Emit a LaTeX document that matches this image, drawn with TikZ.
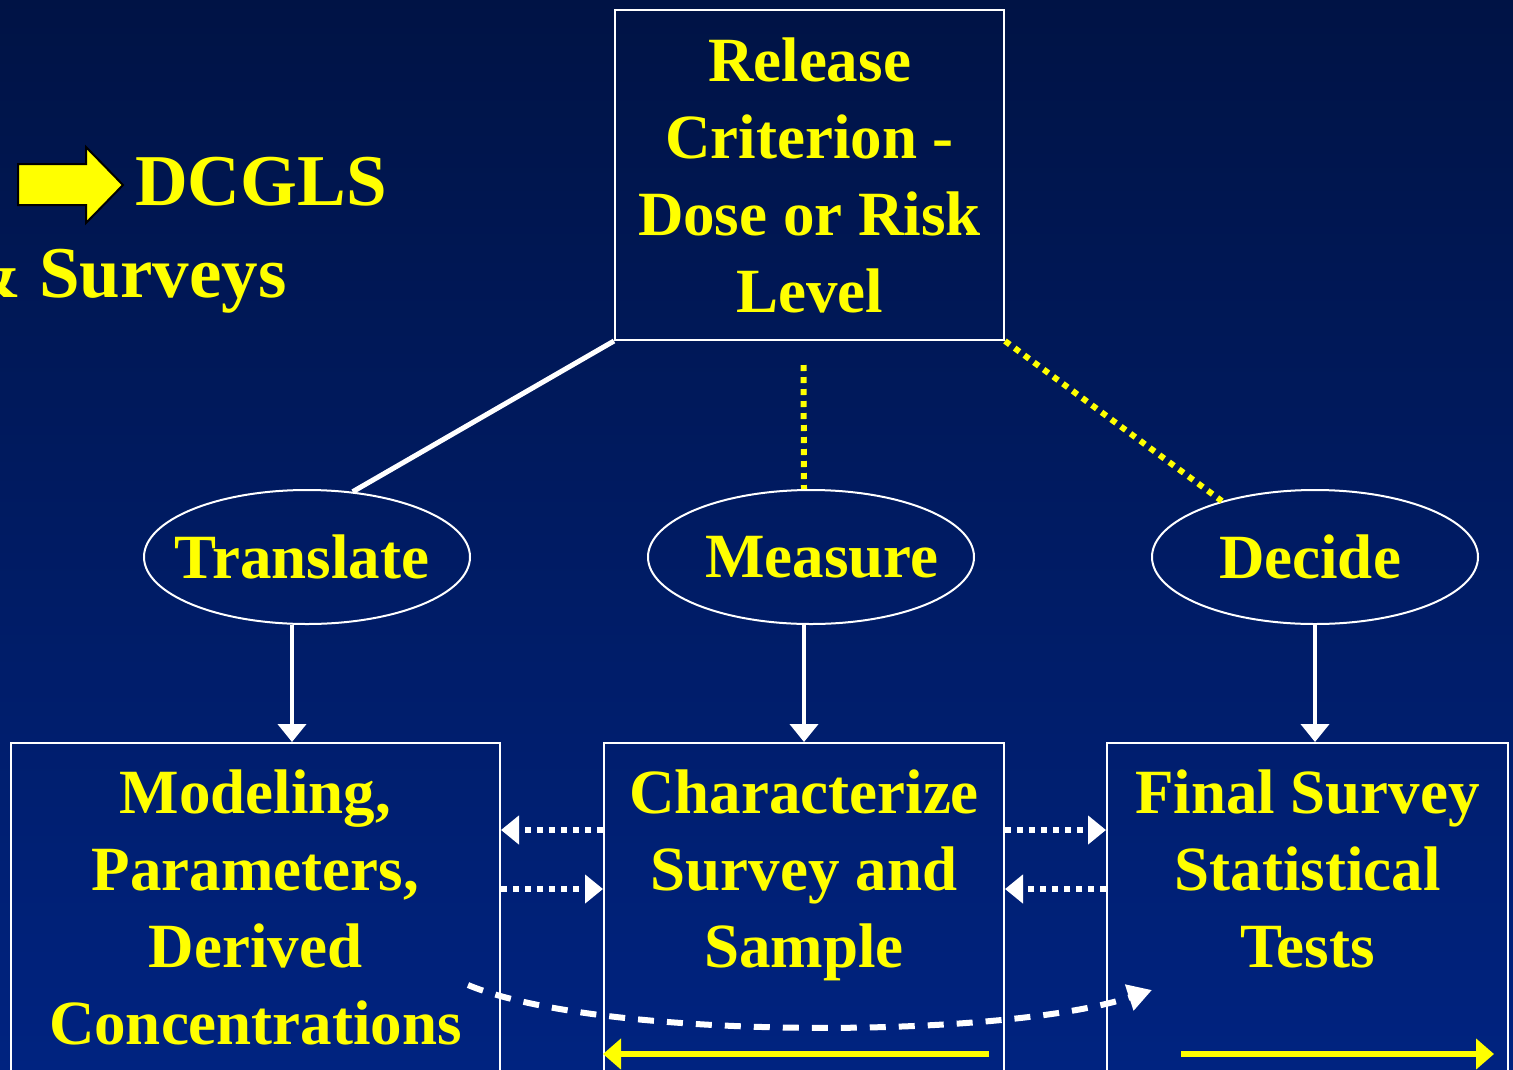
\documentclass[tikz,border=0pt]{standalone}
\usepackage{fontspec}
\setmainfont{Liberation Serif}
\usetikzlibrary{arrows.meta,shapes.geometric,positioning}
\definecolor{bgtop}{HTML}{001345}
\definecolor{bgbot}{HTML}{002380}
\definecolor{hiyellow}{HTML}{FFFF00}

\begin{document}
\begin{tikzpicture}[x=1pt,y=-1pt,>={Triangle[length=18pt,width=28pt]},
  box node/.style={rectangle,draw=white,line width=2pt,inner sep=0pt},
  oval node/.style={ellipse,draw=white,line width=2pt,minimum width=326pt,minimum height=134pt,
    inner xsep=-80pt,inner ysep=0pt,text=hiyellow,font=\fontsize{63}{77}\selectfont\bfseries},
  box text/.style={text=hiyellow,align=center,inner sep=0pt,font=\fontsize{63}{77}\selectfont\bfseries},
  big text/.style={anchor=base west,text=hiyellow,inner sep=0pt,font=\fontsize{73}{88}\selectfont\bfseries},
  white arrow/.style={->,draw=white,line width=4pt},
  dot arrow/.style={->,draw=white,line width=6pt,dash pattern=on 6pt off 6pt},
  dash arrow/.style={-{Triangle[length=24pt,width=26pt]},draw=white,line width=6pt,dash pattern=on 16pt off 13pt},
  yellow dots/.style={draw=hiyellow,line width=6pt,dash pattern=on 6pt off 6pt},
  yellow arrow/.style={-{Triangle[length=18pt,width=30pt]},draw=hiyellow,line width=6pt}]

  \shade[top color=bgtop,bottom color=bgbot] (0,0) rectangle (1513,1069);
  \useasboundingbox (0,0) rectangle (1513,1069);
  \clip (0,0) rectangle (1513,1069);

  \draw[fill=hiyellow,draw=black,line width=2pt] (18,164) -- (86,164) -- (86,147) -- (123,185)
    -- (86,223) -- (86,205) -- (18,205) -- cycle;
  \node[big text] (dcgls) at (135,205) {DCGLS};
  \node[big text] (surveys) at (-40,297) {\& Surveys};

  \node[box node,box text,minimum width=389pt,minimum height=330pt] (release) at (809.5,175)
    {Release\\Criterion -\\Dose or Risk\\Level};

  \node[oval node] (translate) at (307,557) {\hspace*{-10pt}Translate};
  \node[oval node] (measure) at (811,557) {\hspace*{22pt}Measure};
  \node[oval node] (decide) at (1315,557) {\hspace*{-10pt}Decide};

  \node[box node,minimum width=489pt,minimum height=360pt,anchor=north] (model) at (255.5,742) {};
  \node[box node,minimum width=400pt,minimum height=360pt,anchor=north] (charz) at (804,742) {};
  \node[box node,minimum width=401pt,minimum height=360pt,anchor=north] (final) at (1307.5,742) {};

  \node[box text,below=28pt of model.north] (modeltext) {Modeling,\\Parameters,\\Derived\\Concentrations};
  \node[box text,below=28pt of charz.north] (charztext) {Characterize\\Survey and\\Sample};
  \node[box text,below=28pt of final.north] (finaltext) {Final Survey\\Statistical\\Tests};

  \draw[white,line width=5pt] (release.south west) -- (translate.55);
  \draw[yellow dots] ([xshift=-6pt,yshift=-24pt]release.south) -- ([xshift=-7pt]measure.north);
  \draw[yellow dots] (release.south east) -- (decide.149);

  \draw[white arrow] ([xshift=-15pt]translate.south) -- ([xshift=-15pt]model.north -| translate.south);
  \draw[white arrow] ([xshift=-7pt]measure.south) -- ([xshift=-7pt]charz.north -| measure.south);
  \draw[white arrow] (decide.south) -- (final.north -| decide.south);

  \draw[dot arrow] ([yshift=-88pt]charz.north west) -- ([yshift=-88pt]model.north east);
  \draw[dot arrow] ([yshift=-147pt]model.north east) -- ([yshift=-147pt]charz.north west);
  \draw[dot arrow] ([yshift=-88pt]charz.north east) -- ([yshift=-88pt]final.north west);
  \draw[dot arrow] ([yshift=-147pt]final.north west) -- ([yshift=-147pt]charz.north east);

  \coordinate (dstart) at (468,985);
  \coordinate (dend) at (1152,990);
  \draw[dash arrow] (dstart) .. controls (600,1040) and (1000,1040) .. (dend);

  \draw[yellow arrow] ([xshift=-16pt,yshift=50pt]charz.south east) -- ([yshift=50pt]charz.south west);
  \draw[yellow arrow] ([xshift=75pt,yshift=50pt]final.south west) -- ([xshift=-15pt,yshift=50pt]final.south east);
\end{tikzpicture}
\end{document}
